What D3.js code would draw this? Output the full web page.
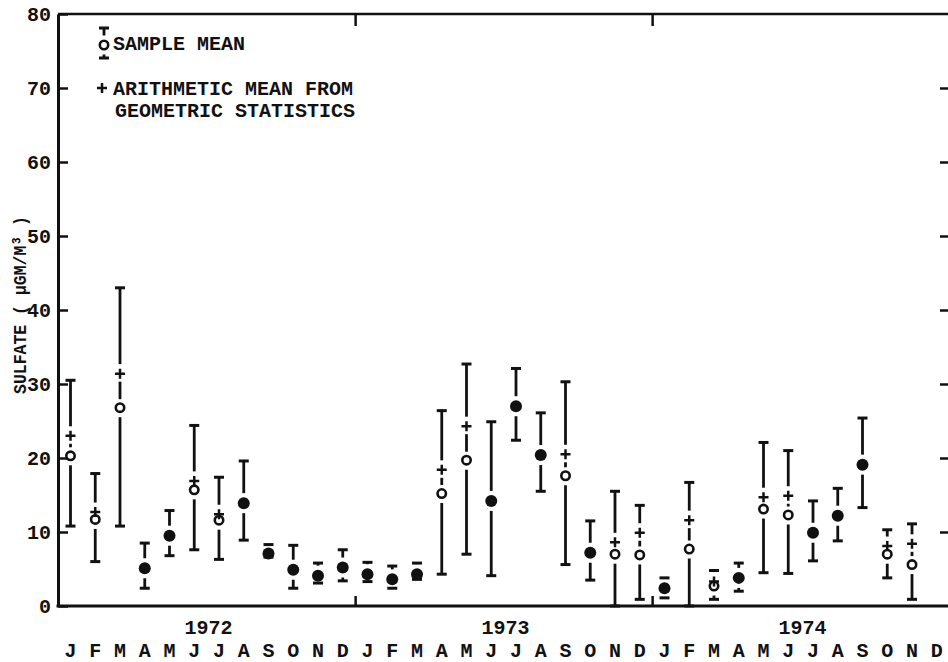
<!DOCTYPE html>
<html>
<head>
<meta charset="utf-8">
<script src="https://cdn.jsdelivr.net/npm/d3@7"></script>
<style>
  body { margin: 0; background: #fff; }
  svg { display: block; }
  text { font-family: "Liberation Mono", "DejaVu Sans Mono", monospace; font-weight: bold; fill: #111; }
  .lbl { font-size: 20px; }
  .ytitle { font-size: 19px; }
</style>
</head>
<body>
<svg id="chart" width="948" height="662"></svg>
<script>
// Monthly sulfate concentrations, Jan 1972 .. Nov 1974 (µg/m³)
const months = ["J", "F", "M", "A", "M", "J", "J", "A", "S", "O", "N", "D"];
const years = ["1972", "1973", "1974"];
const yTicks = [0, 10, 20, 30, 40, 50, 60, 70, 80];

// sample mean (circle)
const sampleMean = [
  20.3, 11.7, 26.8, 5.1, 9.5, 15.7, 11.6, 13.9, 7.1, 4.9, 4.1, 5.2,
  4.3, 3.6, 4.3, 15.2, 19.7, 14.2, 27.0, 20.4, 17.6, 7.2, 7.0, 6.9,
  2.4, 7.7, 2.7, 3.8, 13.1, 12.3, 9.9, 12.2, 19.1, 7.0, 5.6
];
// arithmetic mean derived from geometric statistics (plus sign)
const arithMean = [
  23.0, 12.7, 31.4, 5.3, 9.7, 16.9, 12.4, 14.1, 7.4, 5.1, 4.3, 5.4,
  4.5, 3.8, 4.5, 18.4, 24.3, 14.4, 27.2, 20.6, 20.5, 7.4, 8.6, 9.9,
  2.6, 11.6, 3.3, 4.0, 14.7, 14.9, 10.1, 12.4, 19.3, 8.1, 8.4
];
// upper and lower ends of the bars
const upper = [
  30.5, 17.9, 43.0, 8.5, 12.9, 24.4, 17.4, 19.6, 8.3, 8.2, 5.8, 7.6,
  5.9, 5.4, 5.8, 26.4, 32.7, 24.9, 32.1, 26.1, 30.3, 11.5, 15.5, 13.6,
  3.8, 16.7, 4.8, 5.8, 22.1, 21.0, 14.2, 15.9, 25.4, 10.3, 11.1
];
const lower = [
  10.8, 6.0, 10.8, 2.4, 6.8, 7.6, 6.3, 8.9, 6.6, 2.4, 3.1, 3.4,
  3.3, 2.4, 3.6, 4.3, 7.0, 4.1, 22.4, 15.5, 5.6, 3.5, 0.0, 0.9,
  1.1, 0.0, 0.9, 2.0, 4.5, 4.4, 6.1, 8.8, 13.3, 3.8, 0.9
];

const rows = sampleMean.map((m, i) => ({
  i, mean: m, arith: arithMean[i], hi: upper[i], lo: lower[i]
}));

const W = 948;
const plotLeft = 58, plotTop = 14, plotBottom = 606;
const ink = "#111";

const x = d3.scaleLinear().domain([0, 35]).range([70.5, 936.75]);
const y = d3.scaleLinear().domain([0, 80]).range([plotBottom, plotTop]);

const svg = d3.select("#chart");

// frame: top and bottom rules run off the right edge
svg.append("line").attr("x1", plotLeft).attr("x2", W + 2).attr("y1", plotTop).attr("y2", plotTop)
  .attr("stroke", ink).attr("stroke-width", 2.5);
svg.append("line").attr("x1", plotLeft - 1.5).attr("x2", W + 2).attr("y1", plotBottom).attr("y2", plotBottom)
  .attr("stroke", ink).attr("stroke-width", 3);

// left axis, ticks pointing inward
const yAxisL = d3.axisLeft(y).tickValues(yTicks).tickSize(-10).tickSizeOuter(0)
  .tickPadding(7).tickFormat(d3.format("d"));
svg.append("g").attr("transform", `translate(${plotLeft},0)`).call(yAxisL)
  .call(a => a.select(".domain").attr("stroke", ink).attr("stroke-width", 3))
  .call(a => a.selectAll(".tick line").attr("stroke", ink).attr("stroke-width", 2.5))
  .call(a => a.selectAll(".tick text").attr("class", "lbl"));

// right axis (spine lies just past the edge), ticks only
const yAxisR = d3.axisRight(y).tickValues(yTicks.filter(v => v > 0 && v < 80))
  .tickSize(-9).tickSizeOuter(0).tickFormat("");
svg.append("g").attr("transform", `translate(${W + 1},0)`).call(yAxisR)
  .call(a => a.selectAll(".tick line").attr("stroke", ink).attr("stroke-width", 2.5));

// year boundary ticks on top and bottom
const yearBreaks = [11.5, 23.5];
svg.append("g").attr("transform", `translate(0,${plotTop})`)
  .call(d3.axisBottom(x).tickValues(yearBreaks).tickSize(12).tickSizeOuter(0).tickFormat(""))
  .call(a => a.select(".domain").remove())
  .call(a => a.selectAll(".tick line").attr("stroke", ink).attr("stroke-width", 2.5));
svg.append("g").attr("transform", `translate(0,${plotBottom})`)
  .call(d3.axisTop(x).tickValues(yearBreaks).tickSize(10).tickSizeOuter(0).tickFormat(""))
  .call(a => a.select(".domain").remove())
  .call(a => a.selectAll(".tick line").attr("stroke", ink).attr("stroke-width", 2.5));

// month letters and year labels
svg.append("g").selectAll("text").data(d3.range(36)).join("text")
  .attr("class", "lbl").attr("text-anchor", "middle")
  .attr("x", d => x(d)).attr("y", 657)
  .text(d => months[d % 12]);
svg.append("g").selectAll("text").data(years).join("text")
  .attr("class", "lbl").attr("text-anchor", "middle")
  .attr("x", (d, k) => x(5.5 + 12 * k) + 2).attr("y", 634)
  .text(d => d);

// y-axis title
svg.append("text").attr("class", "ytitle").attr("text-anchor", "middle")
  .attr("transform", "translate(26,305) rotate(-90)")
  .attr("textLength", 178).attr("lengthAdjust", "spacingAndGlyphs")
  .text("SULFATE ( µGM/M³ )");

// bars and markers
const gap = 4;
const plusPath = "M-5,0H5M0,-5V5";

function drawGlyph(sel, px, yh, yl, yp, yo) {
  const filled = yp != null && Math.abs(yo - yp) < 3.5;
  const hasPlus = yp != null && !filled;
  const mTop = filled ? yo - 6 : (hasPlus ? Math.min(yo - 5.5, yp - 5.5) : yo - 5.5);
  const mBot = filled ? yo + 6 : yo + 5.5;
  const segs = [];
  if (mTop - gap > yh) segs.push([yh, mTop - gap]);
  if (hasPlus) {
    const a = yp + 5 + 3, b = yo - 5.5 - 3;
    if (b - a > 1.5) segs.push([a, b]);
  }
  if (yl > mBot + gap) segs.push([mBot + gap, yl]);

  sel.selectAll(null).data(segs).join("line")
    .attr("x1", px).attr("x2", px).attr("y1", d => d[0]).attr("y2", d => d[1])
    .attr("stroke", ink).attr("stroke-width", 2.8);
  sel.selectAll(null).data([yh, yl]).join("line")
    .attr("x1", px - 5).attr("x2", px + 5).attr("y1", d => d).attr("y2", d => d)
    .attr("stroke", ink).attr("stroke-width", 3);
  if (filled) {
    sel.append("circle").attr("cx", px).attr("cy", yo).attr("r", 6).attr("fill", ink);
  } else {
    sel.append("circle").attr("cx", px).attr("cy", yo).attr("r", 4.2)
      .attr("fill", "#fff").attr("stroke", ink).attr("stroke-width", 2.6);
  }
  if (hasPlus) {
    sel.append("path").attr("d", plusPath).attr("transform", `translate(${px},${yp})`)
      .attr("fill", "none").attr("stroke", ink).attr("stroke-width", 2.5);
  }
}

const marks = svg.append("g");
rows.forEach(r => {
  drawGlyph(marks.append("g"), x(r.i), y(r.hi), y(r.lo), y(r.arith), y(r.mean));
});

// legend
const leg = svg.append("g");
drawGlyph(leg.append("g"), 104, 28, 58, null, 45);
leg.append("text").attr("class", "lbl").attr("x", 113).attr("y", 50).text("SAMPLE MEAN");
leg.append("path").attr("d", plusPath).attr("transform", "translate(102,88)")
  .attr("fill", "none").attr("stroke", ink).attr("stroke-width", 2.5);
leg.append("text").attr("class", "lbl").attr("x", 113).attr("y", 95).text("ARITHMETIC MEAN FROM");
leg.append("text").attr("class", "lbl").attr("x", 115).attr("y", 117).text("GEOMETRIC STATISTICS");
</script>
</body>
</html>
